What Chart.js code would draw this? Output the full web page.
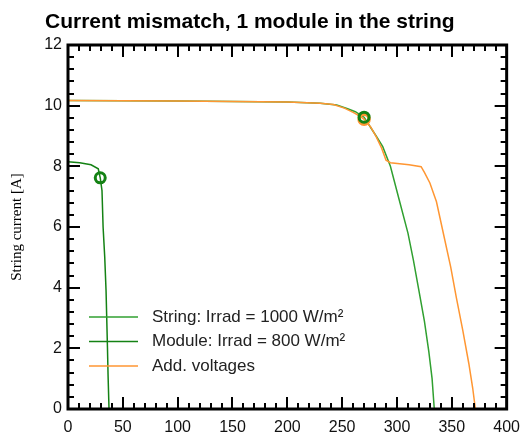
<!DOCTYPE html>
<html lang="en">
<head>
    <meta charset="UTF-8">
    <title>Current mismatch</title>
    <script src="https://cdn.jsdelivr.net/npm/chart.js"></script>
    <style>
        body { margin: 0; background: #fff; }
    </style>
</head>
<body>
<div style="width: 529px; height: 437px;">
    <canvas id="iv-chart"></canvas>
</div>

<script>
    // string at 1000 W/m2
    const stringV = [0, 50, 100, 150, 200, 230, 245, 255, 262, 270, 276, 281, 287, 294, 302, 310, 315, 320, 325, 329, 332, 334];
    const stringI = [10.17, 10.16, 10.15, 10.14, 10.12, 10.08, 10.02, 9.9, 9.8, 9.62, 9.28, 9.0, 8.65, 8.0, 6.9, 5.8, 4.9, 3.9, 2.9, 1.9, 1.0, 0];
    // module at 800 W/m2
    const moduleV = [0, 10.7, 21, 27.6, 29.4, 31, 32, 33.5, 34.7, 36, 36.5, 37.4];
    const moduleI = [8.15, 8.12, 8.05, 7.92, 7.62, 7.2, 6.0, 5.0, 3.9, 2.0, 1.16, 0];
    // added voltages
    const addV = [0, 50, 100, 150, 200, 230, 242, 252, 260, 266, 270, 276, 281, 286, 290, 294, 311, 322, 325, 330, 336, 343, 349, 354, 360, 365.5, 369, 371.5];
    const addI = [10.17, 10.16, 10.15, 10.14, 10.12, 10.08, 10.04, 9.92, 9.78, 9.66, 9.55, 9.3, 8.98, 8.6, 8.2, 8.12, 8.05, 7.99, 7.8, 7.45, 6.83, 5.67, 4.68, 3.7, 2.59, 1.5, 0.7, 0];
    // maximum power points
    const mppString = [270, 9.62];
    const mppModule = [29.4, 7.62];
    const mppAdd = [270, 9.55];

    const labels = ['String: Irrad = 1000 W/m\u00b2', 'Module: Irrad = 800 W/m\u00b2', 'Add. voltages'];
    const green = 'rgb(48,160,48)';
    const darkGreen = 'rgb(20,130,20)';
    const orange = 'rgb(255,150,50)';

    function pts(xs, ys) {
        return xs.map((x, i) => ({x: x, y: ys[i]}));
    }

    const frame = {
        id: 'frame',
        afterDraw(chart) {
            const c = chart.ctx;
            const a = chart.chartArea;
            const sx = chart.scales.x, sy = chart.scales.y;
            c.save();
            c.strokeStyle = '#000';
            c.lineWidth = 2;
            c.beginPath();
            for (let v = 0; v <= 400; v += 10) {
                const p = Math.round(sx.getPixelForValue(v));
                const len = v % 50 === 0 ? 12 : 6;
                c.moveTo(p, a.bottom); c.lineTo(p, a.bottom - len);
                c.moveTo(p, a.top); c.lineTo(p, a.top + len);
            }
            for (let k = 0; k <= 30; k++) {
                const v = k * 0.4;
                const p = Math.round(sy.getPixelForValue(v));
                const len = k % 5 === 0 ? 12 : 6;
                c.moveTo(a.left, p); c.lineTo(a.left + len, p);
                c.moveTo(a.right, p); c.lineTo(a.right - len, p);
            }
            c.stroke();
            c.lineWidth = 3;
            c.strokeRect(a.left, a.top, a.right - a.left, a.bottom - a.top);

            // title
            c.fillStyle = '#000';
            c.font = 'bold 21px "Liberation Sans", Arial, sans-serif';
            c.textBaseline = 'alphabetic';
            c.textAlign = 'left';
            c.fillText('Current mismatch, 1 module in the string', 45, 28);

            // legend
            const cols = [green, darkGreen, orange];
            c.font = '17px "Liberation Sans", Arial, sans-serif';
            c.textBaseline = 'middle';
            labels.forEach((t, i) => {
                const y = 317 + i * 24.5;
                c.strokeStyle = cols[i];
                c.lineWidth = 1.5;
                c.beginPath();
                c.moveTo(89, y); c.lineTo(138, y);
                c.stroke();
                c.fillStyle = '#222';
                c.fillText(t, 152, y);
            });
            c.restore();
        }
    };

    const ctx = document.getElementById('iv-chart').getContext('2d');
    const chart = new Chart(ctx, {
        type: 'scatter',
        data: {
            datasets: [
                {
                    label: 'mpp add',
                    data: [{x: mppAdd[0], y: mppAdd[1]}],
                    borderColor: orange, backgroundColor: 'rgba(0,0,0,0)',
                    pointRadius: 5, borderWidth: 3.5, order: 1
                },
                {
                    label: 'mpp string',
                    data: [{x: mppString[0], y: mppString[1]}],
                    borderColor: darkGreen, backgroundColor: 'rgba(0,0,0,0)',
                    pointRadius: 5, borderWidth: 3, order: 0
                },
                {
                    label: 'mpp module',
                    data: [{x: mppModule[0], y: mppModule[1]}],
                    borderColor: darkGreen, backgroundColor: 'rgba(0,0,0,0)',
                    pointRadius: 5, borderWidth: 3, order: 0
                },
                {
                    label: labels[2],
                    data: pts(addV, addI),
                    showLine: true, borderColor: orange, borderWidth: 1.5,
                    pointRadius: 0, order: 2
                },
                {
                    label: labels[0],
                    data: pts(stringV, stringI),
                    showLine: true, borderColor: green, borderWidth: 1.5,
                    pointRadius: 0, order: 3
                },
                {
                    label: labels[1],
                    data: pts(moduleV, moduleI),
                    showLine: true, borderColor: darkGreen, borderWidth: 1.5,
                    pointRadius: 0, order: 3
                }
            ]
        },
        options: {
            responsive: true,
            maintainAspectRatio: false,
            animation: false,
            layout: {padding: {top: 45, right: 13, left: 0, bottom: 0}},
            plugins: {legend: {display: false}, tooltip: {enabled: false}},
            scales: {
                x: {
                    type: 'linear', min: 0, max: 400,
                    grid: {display: false, drawTicks: false}, border: {display: false},
                    ticks: {stepSize: 50, padding: 9, color: '#111',
                        font: {family: '"Liberation Sans", Arial, sans-serif', size: 16}},
                    afterFit: s => { s.height = 28; }
                },
                y: {
                    min: 0, max: 12,
                    grid: {display: false, drawTicks: false}, border: {display: false},
                    ticks: {stepSize: 2, padding: 6, color: '#111',
                        font: {family: '"Liberation Sans", Arial, sans-serif', size: 16}},
                    title: {display: true, text: 'String current [A]', color: '#000',
                        padding: {top: 8, bottom: 0},
                        font: {family: '"Liberation Serif", "Times New Roman", serif', size: 15}},
                    afterFit: s => { s.width = 68; }
                }
            }
        },
        plugins: [frame]
    });
</script>
</body>
</html>
